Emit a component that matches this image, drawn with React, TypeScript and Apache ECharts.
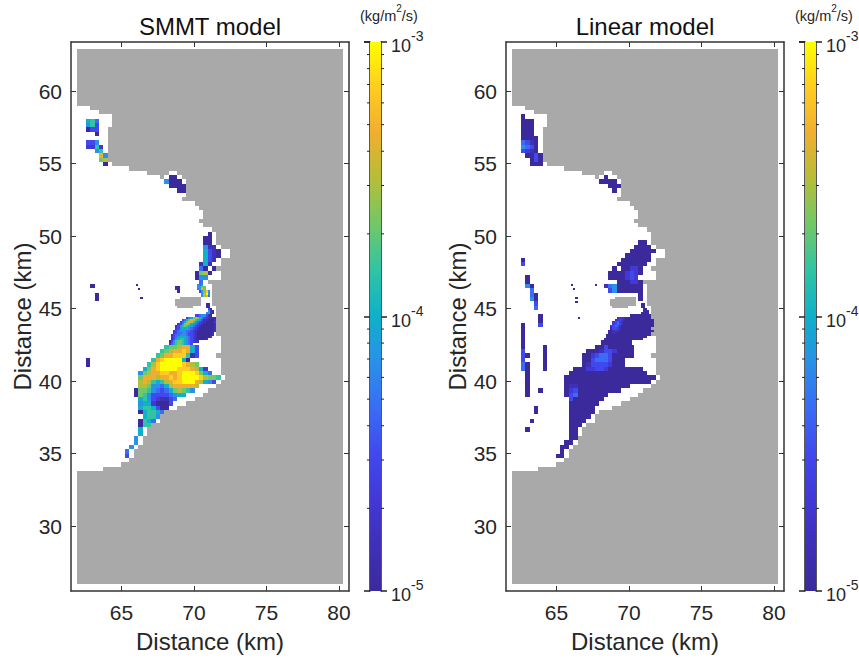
import React, { useEffect, useRef } from "react";
import * as echarts from "echarts";

const panelTitles = ["SMMT model", "Linear model"];
const axisName = "Distance (km)";
const unitParts = ["(kg/m", "2", "/s)"];
const xTicks = [65, 70, 75, 80];
const yTicks = [30, 35, 40, 45, 50, 55, 60];
const barMinorTicks = [2e-5, 3e-5, 4e-5, 5e-5, 6e-5, 7e-5, 8e-5, 9e-5, 2e-4, 3e-4, 4e-4, 5e-4, 6e-4, 7e-4, 8e-4, 9e-4];
const levelColors = ["#3b2a9c", "#3f30b8", "#4238d8", "#4148ee", "#3a6cf5", "#2a90e8", "#0fb0c8", "#2fc4a4", "#70c868", "#b4be38", "#f0ae30", "#ffcc20", "#ffff00"];
const LEVELS = "0123456789abc";
const LAND = "#a9a9a9";

// [rowFrom, rowTo, colFrom, colTo]
const landSpans: number[][] = [
  [0, 12, 0, 61], [13, 13, 3, 61], [14, 14, 5, 61], [15, 17, 8, 61], [18, 25, 7, 61], [26, 26, 8, 61], [27, 27, 12, 61],
  [28, 28, 16, 21], [28, 28, 23, 61], [29, 29, 19, 20], [29, 29, 24, 61], [30, 33, 25, 61], [34, 34, 24, 61], [35, 35, 27, 61],
  [36, 36, 28, 61], [37, 38, 29, 61], [39, 39, 28, 61], [40, 40, 29, 61], [41, 41, 31, 61], [42, 44, 32, 61], [45, 45, 33, 61],
  [46, 47, 35, 61], [48, 49, 33, 61], [50, 50, 32, 61], [51, 52, 33, 61], [53, 53, 30, 61], [54, 58, 31, 61], [59, 65, 32, 61],
  [66, 69, 33, 61], [70, 70, 32, 61], [71, 74, 33, 61], [75, 75, 34, 61], [76, 76, 33, 61], [77, 77, 32, 61], [78, 78, 30, 61],
  [79, 79, 29, 61], [80, 80, 27, 61], [81, 81, 25, 61], [82, 82, 23, 61], [83, 83, 20, 61], [84, 85, 19, 61], [86, 86, 17, 61],
  [87, 88, 16, 61], [89, 90, 15, 61], [91, 91, 14, 61], [92, 93, 13, 61], [94, 94, 12, 61], [95, 95, 10, 61], [96, 96, 6, 61],
  [97, 122, 0, 61],
];
// [fineRow, fineColFrom, fineColTo]
const islandSpans: number[][] = [[114, 47, 57], [115, 45, 57], [116, 45, 57], [117, 45, 57], [118, 46, 53]];

// [row, firstCol, one level per cell, "." = empty]
const smmtCoarse: [number, number, string][] = [
  [16, 2, "674"], [17, 2, "573"], [18, 2, "033"], [19, 4, "0"], [21, 2, "335"], [22, 2, "2272"], [23, 4, "57"], [24, 5, "a5"], [25, 5, "89"], [26, 6, "0"],
  [29, 21, "00"], [30, 20, "5000"], [31, 21, "0000"], [32, 23, "00"],
  [42, 30, "0"], [43, 29, "00"], [44, 29, "00"], [45, 29, "511"], [46, 29, "6310"], [47, 29, "6310"], [48, 29, "631"], [49, 28, "161"], [50, 28, "40.0"], [51, 27, "0890"], [52, 27, "055"], [53, 28, "4"],
  [54, 3, "0"], [56, 4, "0"], [57, 4, "0"], [71, 2, "0"], [72, 2, "0"],
  [68, 20, "7889aa63"], [69, 19, "789aaba63"], [70, 18, "78aabbb713"], [71, 17, "7abcccc60"], [72, 16, "79bcccccba98"],
  [73, 15, "68abccccbbba962"], [74, 14, "589aabbaabcccb864"], [75, 14, "8aaa9aababccccb9887"], [76, 14, "9a97679abbccca9653"],
  [77, 14, "99855469aaaaa9"], [78, 13, "08875434689875"], [79, 13, "087533334566"], [80, 14, "675321134"], [81, 14, "56620003"],
  [82, 14, "6776300"], [83, 14, "067764"], [84, 15, "6775"], [85, 14, "0764"], [86, 14, "077"], [87, 14, "6"], [88, 14, "6"],
  [89, 13, "5"], [90, 13, "5"], [91, 12, "5"], [92, 11, "4"], [93, 11, "3"],
];
// [fineRow, firstFineCol, levels]
const smmtFine: [number, number, string][] = [
  [108, 27, "0"], [110, 28, "0"], [114, 29, "0"], [109, 45, "00"], [110, 45, "10"], [111, 46, "0"],
  [108, 55, "545"], [109, 55, "5688"], [110, 55, "46a8"], [111, 56, "358b5"], [112, 57, "59c5"], [113, 57, "59a4"],
  [117, 59, "00"], [118, 59, "00"], [119, 60, "30"], [120, 60, "510"], [121, 59, "5610"],
  [122, 54, "33455310"], [123, 50, "34689865321100"], [124, 48, "3468a97653110001"], [125, 47, "2468a975432100002"],
  [126, 46, "235898654321000001"], [127, 45, "1357876543210000001"], [128, 45, "2356665432100000001"],
  [129, 44, "23455544321000000001"], [130, 44, "2344554332100000001"], [131, 43, "13445554332100000001"],
  [132, 43, "2345666543210000001"], [133, 43, "13567765432100001"], [134, 42, "03578876543211"], [135, 42, "14678876543"],
];

const linearCoarse: [number, number, string][] = [
  [15, 2, "0"], [16, 2, "000"], [17, 2, "000"], [18, 2, "000"], [19, 2, "000"], [20, 2, "0000"], [21, 2, "4310"], [22, 2, "5430"], [23, 2, "3210"],
  [24, 3, "0030"], [25, 4, "030"], [26, 4, "000"], [29, 21, "0"], [30, 20, "0000"], [31, 22, "000"], [32, 23, "0"],
  [44, 29, "00"], [45, 28, "0000"], [46, 27, "000000"], [47, 26, "000000"], [48, 25, "0000000"], [49, 24, "0000000"],
  [50, 23, "0.00220"], [51, 22, "00002320"], [52, 22, "0000232"], [53, 24, "000220"], [54, 21, "145000000"], [55, 22, "35000000"], [56, 29, "0"], [57, 29, "0"],
  [48, 2, "0"], [49, 2, "3"], [52, 3, "0"], [53, 3, "0"], [54, 3, "50"], [55, 4, "4"], [56, 4, "40"], [57, 4, "50"], [58, 5, "3"], [59, 5, "4"],
  [61, 6, "0"], [62, 6, "0"], [63, 2, "0"], [63, 6, "3"], [64, 2, "0"], [65, 2, "0"], [66, 2, "0"], [67, 2, "0"], [68, 2, "0"], [69, 2, "3"], [70, 2, "30"], [71, 2, "3"],
  [72, 2, "40"], [73, 2, "40"], [74, 3, "0"], [75, 3, "0"], [76, 3, "0"], [77, 3, "0"], [78, 3, "0"], [79, 3, "0"],
  [68, 7, "0"], [69, 7, "0"], [70, 7, "0"], [71, 7, "0"], [72, 7, "0"], [73, 7, "0"], [78, 6, "0"], [82, 5, "0"], [83, 5, "0"], [85, 4, "0"], [87, 3, "0"],
  [68, 19, "003000000"], [69, 17, "00013320000"], [70, 16, "002344300000"], [71, 16, "0034443000"], [72, 16, "0133332000"],
  [73, 14, "0002233200000000"], [74, 13, "000000000000000000"], [75, 12, "000000000000000000000"], [76, 12, "00000000000000000000"],
  [77, 12, "011000000000000"], [78, 12, "0230000000000"], [79, 12, "0340000000"], [80, 13, "30000000"], [81, 13, "0000000"], [82, 13, "000000"],
  [83, 13, "000000"], [84, 13, "00000"], [85, 13, "0000"], [86, 13, "000"], [87, 13, "00"], [88, 13, "00"], [89, 13, "00"], [90, 12, "00"], [91, 11, "00"], [92, 11, "0"], [93, 10, "00"],
];
const linearFine: [number, number, string][] = [
  [108, 27, "0"], [110, 28, "0"], [114, 29, "0"], [116, 29, "0"], [123, 30, "0"], [108, 38, "0"],
  [117, 59, "00"], [118, 59, "00"], [119, 60, "00"], [120, 60, "000"], [121, 59, "0000"], [122, 54, "0000000000"],
  [123, 48, "1221000000000000"], [124, 47, "123210000000000000"], [125, 46, "2342100000000000000"], [126, 46, "2343100000000000000"],
  [127, 45, "23431000000000000000"], [128, 45, "0332100000000000000"], [129, 44, "001210000000000000000"], [130, 44, "00100000000000000000"],
  [131, 43, "000000000000000000000"], [132, 43, "0000000000000000000"], [133, 42, "000000000000000000"], [134, 41, "00000000000000"], [135, 41, "00000000000000"],
];

const X0 = 61.95, YTOP = 62.9, CELL = 0.3, FINE = 0.15;
const XMIN = 61.517, XMAX = 80.69, YMIN = 25.52, YMAX = 63.38;

function expand(rows: [number, number, string][], step: number) {
  const out: number[][] = [];
  rows.forEach(([r, c, s]) => {
    for (let i = 0; i < s.length; i++) {
      const idx = LEVELS.indexOf(s[i]);
      if (idx < 0) continue;
      const x = X0 + (c + i) * step;
      const y = YTOP - r * step;
      out.push([x, x + step, y - step, y, idx]);
    }
  });
  return out;
}
const landCells = landSpans
  .map(([r0, r1, c0, c1]) => [X0 + c0 * CELL, X0 + c1 * CELL, YTOP - (r1 + 1) * CELL, YTOP - r0 * CELL, -1])
  .concat(islandSpans.map(([g, f0, f1]) => [X0 + f0 * FINE, X0 + f1 * FINE, YTOP - (g + 1) * FINE, YTOP - g * FINE, -1]));

const renderCell = (_: any, api: any) => {
  const a = api.coord([api.value(0), api.value(3)]);
  const b = api.coord([api.value(1), api.value(2)]);
  const x = Math.round(a[0]), y = Math.round(a[1]);
  const lv = api.value(4);
  return {
    type: "rect",
    shape: { x, y, width: Math.round(b[0]) - x, height: Math.round(b[1]) - y },
    style: { fill: lv < 0 ? LAND : levelColors[lv], stroke: null },
  };
};

const FONT = "Liberation Sans";
const TEXT = "#262626";
const AXIS = "#333333";

function mapPanel(i: number, left: number, coarse: any, fine: any) {
  const lineStyle = { color: AXIS, width: 1.5 };
  const grid = { left, top: 42, width: 278, height: 549, containLabel: false, outerBoundsMode: "none" };
  const tick = (vals: number[]) => ({ show: true, inside: true, length: 5, customValues: vals, lineStyle: { color: AXIS, width: 1 } });
  const base = { type: "value", gridIndex: i, splitLine: { show: false }, axisLine: { show: true, onZero: false, lineStyle } };
  const xAxes = [
    { ...base, min: XMIN, max: XMAX, position: "bottom", axisTick: tick(xTicks),
      axisLabel: { show: true, customValues: xTicks, fontFamily: FONT, fontSize: 21, color: TEXT, margin: 11 },
      name: axisName, nameLocation: "middle", nameGap: 38, nameTextStyle: { fontFamily: FONT, fontSize: 24, color: TEXT } },
    { ...base, min: XMIN, max: XMAX, position: "top", axisTick: tick(xTicks), axisLabel: { show: false },
      name: panelTitles[i], nameLocation: "middle", nameGap: 4, nameTextStyle: { fontFamily: FONT, fontSize: 24, color: "#111111", verticalAlign: "bottom" } },
  ];
  const yAxes = [
    { ...base, min: YMIN, max: YMAX, position: "left", axisTick: tick(yTicks),
      axisLabel: { show: true, customValues: yTicks, fontFamily: FONT, fontSize: 21, color: TEXT, margin: 9 },
      name: axisName, nameLocation: "middle", nameGap: 37, nameTextStyle: { fontFamily: FONT, fontSize: 24, color: TEXT } },
    { ...base, min: YMIN, max: YMAX, position: "right", axisTick: tick(yTicks), axisLabel: { show: false } },
  ];
  return { grid, xAxes, yAxes, coarse: expand(coarse, CELL), fine: expand(fine, FINE) };
}

export default function App() {
  const ref = useRef<HTMLDivElement>(null);
  useEffect(() => {
    const chart = echarts.init(ref.current!, undefined, { renderer: "svg" });
    const panels = [mapPanel(0, 71, smmtCoarse, smmtFine), mapPanel(1, 506, linearCoarse, linearFine)];
    const bars = [370, 805];
    const grids: any[] = [], xAxis: any[] = [], yAxis: any[] = [], series: any[] = [];
    panels.forEach((p, i) => {
      grids.push(p.grid);
      const xBase = xAxis.length, yBase = yAxis.length;
      xAxis.push(...p.xAxes);
      yAxis.push(...p.yAxes);
      const common = { type: "custom", xAxisIndex: xBase, yAxisIndex: yBase, renderItem: renderCell, clip: false, silent: true, encode: { x: [0, 1], y: [2, 3] } };
      series.push({ ...common, data: landCells, z: 2 });
      series.push({ ...common, data: p.coarse, z: 3 });
      series.push({ ...common, data: p.fine, z: 4 });
    });
    bars.forEach((left, i) => {
      const gi = grids.length;
      grids.push({ left, top: 42, width: 11, height: 549, outerBoundsMode: "none" });
      const xi = xAxis.length, yi = yAxis.length;
      xAxis.push({ type: "value", gridIndex: gi, min: 0, max: 1, show: false });
      const barLine = { show: true, onZero: false, lineStyle: { color: "#222222", width: 1.5 } };
      yAxis.push({ type: "log", logBase: 10, gridIndex: gi, min: 1e-5, max: 1e-3, position: "right", splitLine: { show: false }, minorTick: { show: false },
        axisLine: barLine, axisTick: { show: true, length: 6, lineStyle: { color: "#222222", width: 1.5 } },
        axisLabel: { show: true, margin: 10, formatter: (v: number) => `{b|10}{s|${Math.round(Math.log10(v))}}`, rich: {
          b: { fontFamily: FONT, fontSize: 18, color: TEXT, lineHeight: 26, verticalAlign: "bottom" },
          s: { fontFamily: FONT, fontSize: 14, color: TEXT, lineHeight: 26, verticalAlign: "top" } } } });
      yAxis.push({ type: "log", logBase: 10, gridIndex: gi, min: 1e-5, max: 1e-3, position: "left", splitLine: { show: false }, minorTick: { show: false },
        axisLine: barLine, axisTick: { show: true, length: 6, lineStyle: { color: "#222222", width: 1.5 } }, axisLabel: { show: false } });
      const common = { type: "custom", xAxisIndex: xi, yAxisIndex: yi, clip: false, silent: true };
      series.push({ ...common, z: 2, data: [[0, 1, 1e-5, 1e-3]], renderItem: (_: any, api: any) => {
        const a = api.coord([0, 1e-3]);
        const b = api.coord([1, 1e-5]);
        return { type: "rect", shape: { x: a[0], y: a[1], width: b[0] - a[0], height: b[1] - a[1] },
          style: { fill: new echarts.graphic.LinearGradient(0, 1, 0, 0, levelColors.map((color, k) => ({ offset: k / (levelColors.length - 1), color }))) } };
      } });
      series.push({ ...common, z: 5, data: barMinorTicks.map((v) => [0, v]), renderItem: (_: any, api: any) => {
        const p = api.coord([0, api.value(1)]);
        const q = api.coord([1, api.value(1)]);
        const st = { stroke: "#222222", lineWidth: 1 };
        return { type: "group", children: [
          { type: "line", shape: { x1: p[0] - 3, y1: p[1], x2: p[0], y2: p[1] }, style: st },
          { type: "line", shape: { x1: q[0], y1: q[1], x2: q[0] + 3, y2: q[1] }, style: st },
        ] };
      } });
    });
    const unit = (x: number) => ({ type: "text", left: x, top: 3, silent: true, style: {
      text: `{a|${unitParts[0]}}{u|${unitParts[1]}}{a|${unitParts[2]}}`,
      rich: { a: { fontFamily: FONT, fontSize: 14.5, fill: TEXT, lineHeight: 20, verticalAlign: "bottom" }, u: { fontFamily: FONT, fontSize: 10, fill: TEXT, lineHeight: 20, verticalAlign: "top" } } } });
    chart.setOption({
      animation: false,
      backgroundColor: "#ffffff",
      grid: grids, xAxis, yAxis, series,
      graphic: [unit(360), unit(795)],
    });
    return () => chart.dispose();
  }, []);
  return <div ref={ref} style={{ position: "fixed", left: 0, top: 0, width: 859, height: 660 }} />;
}
